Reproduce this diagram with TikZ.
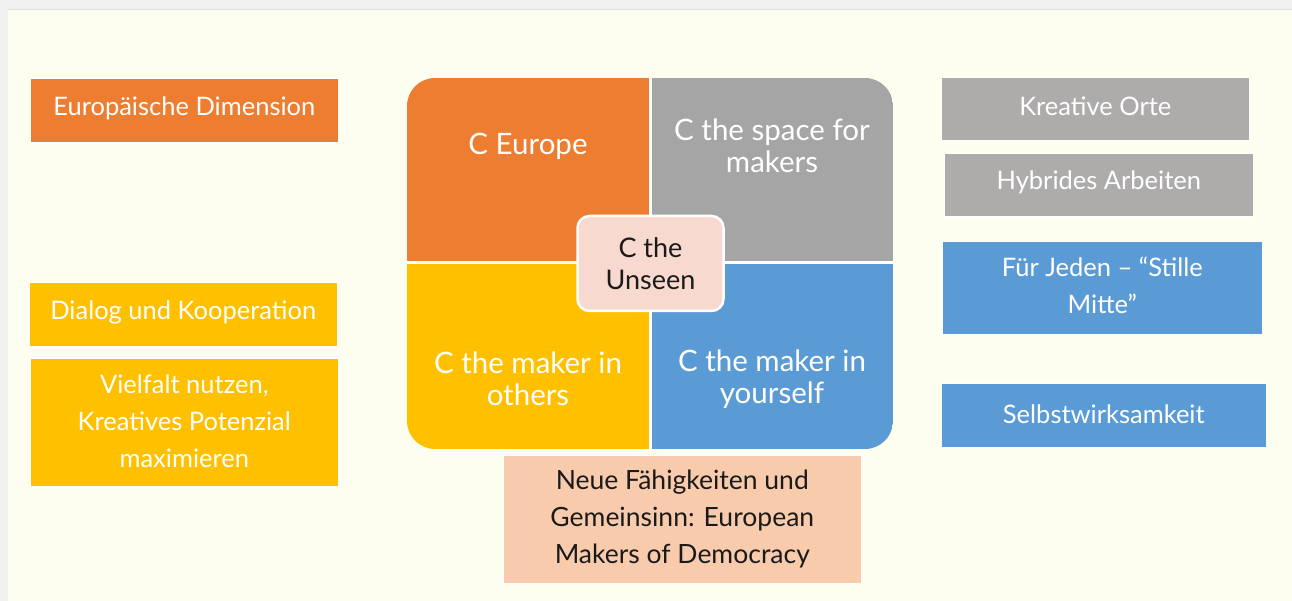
\documentclass[tikz,border=0pt]{standalone}
\usepackage{fontspec}
\setmainfont{Lato}
\begin{document}
\begin{tikzpicture}[x=1pt,y=-1pt,
  every node/.style={font=\fontsize{25.5}{37}\selectfont, align=center, text=white, inner sep=0pt},
  sidebox/.style={rectangle, draw=white, line width=0.6pt, anchor=north west},
  quadtext/.style={font=\fontsize{29.5}{32.5}\selectfont, text=white},
  divider/.style={white, line width=3pt}]
\definecolor{pageback}{HTML}{FEFEF0}
\definecolor{frame}{HTML}{F0F0F0}
\definecolor{orangeA}{HTML}{ED7D31}
\definecolor{greyA}{HTML}{A5A5A5}
\definecolor{greyB}{HTML}{AEABAB}
\definecolor{yellowA}{HTML}{FFC000}
\definecolor{blueA}{HTML}{5B9BD5}
\definecolor{peachA}{HTML}{F8CBAD}
\definecolor{pinkA}{HTML}{F8D9CF}
\definecolor{inkA}{HTML}{1A1A1A}
% page and frame
\useasboundingbox (0,0) rectangle (1292,601);
\fill[frame] (0,0) rectangle (1292,601);
\fill[pageback] (8,10) rectangle (1292,601);
\draw[gray!25, line width=0.8pt] (8,9.5) -- (1292,9.5);

% left column
\node[sidebox, fill=orangeA, minimum width=308pt, minimum height=64pt] (euro) at (30,78) {};
\node at ([yshift=2pt]euro.center) (eurotxt) {Europäische Dimension};
\node[sidebox, fill=yellowA, minimum width=308pt, minimum height=64pt] (dialog) at (29,282) {};
\node at ([yshift=2pt]dialog.center) (dialogtxt) {Dialog und Kooperation};
\node[sidebox, fill=yellowA, minimum width=308pt, minimum height=128pt] (vielfalt) at (30,358) {};
\node at ([yshift=1pt]vielfalt.center) (vielfalttxt) {Vielfalt nutzen,\\Kreatives Potenzial\\maximieren};

% central matrix
\begin{scope}
  \clip[rounded corners=28pt] (407,78) rectangle (893,449);
  \fill[orangeA] (407,78) rectangle (650,263);
  \fill[greyA] (650,78) rectangle (893,263);
  \fill[yellowA] (407,263) rectangle (650,449);
  \fill[blueA] (650,263) rectangle (893,449);
\end{scope}
\draw[divider] (650,78) -- (650,449);
\draw[divider] (407,263) -- (893,263);
\node[quadtext] (qeurope) at (528,146) {C Europe};
\node[quadtext] (qspace) at (772,146) {C the space for\\makers};
\node[quadtext] (qothers) at (528,379) {C the maker in\\others};
\node[quadtext] (qyourself) at (772,379) {C the maker in\\yourself};
\node[rectangle, rounded corners=12pt, fill=pinkA, draw=white, line width=2.5pt,
      minimum width=146pt, minimum height=95pt] (unseen) at (650.5,263.5) {};
\node[quadtext, font=\fontsize{27}{32.5}\selectfont, text=inkA] (unseentxt) at (unseen.center) {C the\\Unseen};

% bottom box
\node[sidebox, fill=peachA, minimum width=358pt, minimum height=128pt] (neue) at (503,455) {};
\node[text=inkA, font=\fontsize{26.5}{37}\selectfont] (neuetxt) at (neue.center) {Neue Fähigkeiten und\\Gemeinsinn: European\\Makers of Democracy};

% right column
\node[sidebox, fill=greyB, minimum width=308pt, minimum height=63pt] (orte) at (941,77) {};
\node at ([yshift=3pt]orte.center) (ortetxt) {Kreative Orte};
\node[sidebox, fill=greyB, minimum width=309pt, minimum height=63pt] (hybrid) at (944,153) {};
\node at ([yshift=3pt]hybrid.center) (hybridtxt) {Hybrides Arbeiten};
\node[sidebox, fill=blueA, minimum width=320pt, minimum height=93pt] (jeden) at (942,241) {};
\node at ([yshift=2pt]jeden.center) (jedentxt) {Für Jeden – “Stille\\Mitte”};
\node[sidebox, fill=blueA, minimum width=325pt, minimum height=64pt] (selbst) at (941,383) {};
\node at ([yshift=1pt]selbst.center) (selbsttxt) {Selbstwirksamkeit};
\end{tikzpicture}
\end{document}
